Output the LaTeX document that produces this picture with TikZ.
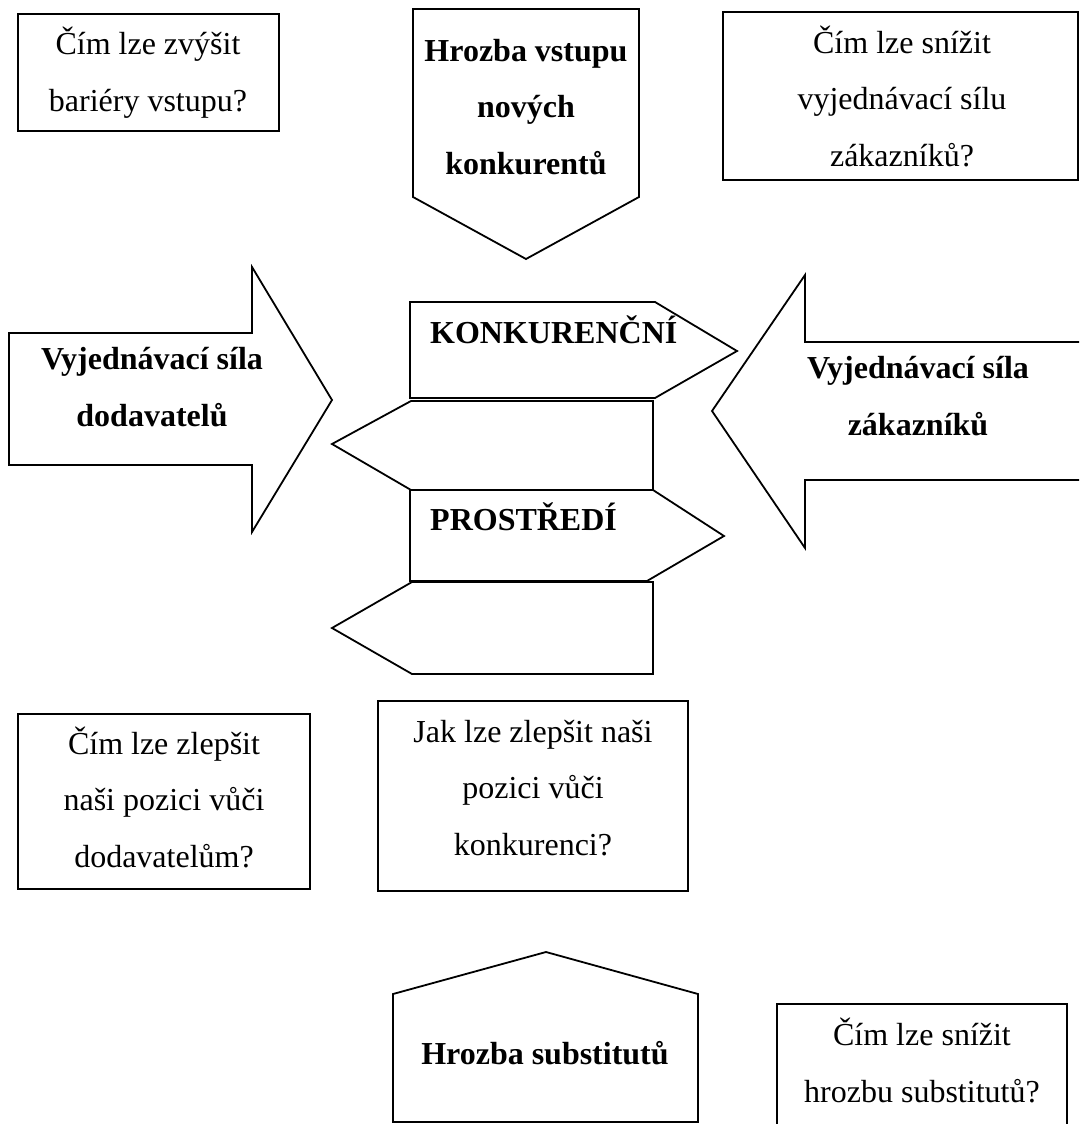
\documentclass[tikz,border=0pt]{standalone}
\usepackage{fontspec}
\setmainfont{Liberation Serif}
\begin{document}
\begin{tikzpicture}[x=1pt,y=-1pt,
  shapeline/.style={draw=black,line width=1.8pt,line join=miter,fill=white},
  txt/.style={font=\fontsize{32}{56.5}\selectfont,align=center,anchor=base,inner sep=0pt},
  btxt/.style={font=\fontsize{32}{56.5}\selectfont\bfseries,align=center,anchor=base,inner sep=0pt}]
\useasboundingbox (0,0) rectangle (1079,1124);
\fill[white] (0,0) rectangle (1079,1124);
\clip (0,0) rectangle (1079,1124);

% top-left box (base anchor = baseline of last line)
\draw[shapeline] (18,14) rectangle (279,131);
\node[txt] (barriers) at (148,111) {Čím lze zvýšit\\bariéry vstupu?};

% top arrow: threat of new entrants
\draw[shapeline] (413,9) -- (639,9) -- (639,197) -- (526,259) -- (413,197) -- cycle;
\node[btxt] (entrants) at (526,174) {Hrozba vstupu\\nových\\konkurentů};

% top-right box
\draw[shapeline] (723,12) rectangle (1078,180);
\node[txt] (custq) at (902,166) {Čím lze snížit\\vyjednávací sílu\\zákazníků?};

% left arrow: suppliers
\draw[shapeline] (9,333) -- (252,333) -- (252,267) -- (332,400) -- (252,532) -- (252,465) -- (9,465) -- cycle;
\node[btxt] (suppliers) at (152,426) {Vyjednávací síla\\dodavatelů};

% right arrow: customers (open at the right edge)
\draw[shapeline] (1095,342) -- (805,342) -- (805,275) -- (712,411) -- (805,548) -- (805,480) -- (1095,480) -- cycle;
\node[btxt] (customers) at (918,435) {Vyjednávací síla\\zákazníků};

% centre arrows
\draw[shapeline] (410,302) -- (655,302) -- (737,351) -- (655,398) -- (410,398) -- cycle;
\draw[shapeline] (653,401) -- (653,490) -- (411,490) -- (332,444) -- (411,401) -- cycle;
\draw[shapeline] (410,490) -- (653,490) -- (724,536) -- (647,581) -- (410,581) -- cycle;
\draw[shapeline] (653,582) -- (653,674) -- (412,674) -- (332,628) -- (412,582) -- cycle;
\node[btxt,anchor=base west] (konk) at (430,343) {KONKURENČNÍ};
\node[btxt,anchor=base west] (prostr) at (430,530) {PROSTŘEDÍ};

% bottom-left box
\draw[shapeline] (18,714) rectangle (310,889);
\node[txt] (suppq) at (164,867) {Čím lze zlepšit\\naši pozici vůči\\dodavatelům?};

% centre bottom box
\draw[shapeline] (378,701) rectangle (688,891);
\node[txt] (compq) at (533,855) {Jak lze zlepšit naši\\pozici vůči\\konkurenci?};

% bottom pentagon: substitutes
\draw[shapeline] (393,1122) -- (393,994) -- (546,952) -- (698,994) -- (698,1122) -- cycle;
\node[btxt] (subst) at (545,1064) {Hrozba substitutů};

% bottom-right box
\draw[shapeline] (777,1004) rectangle (1067,1140);
\node[txt] (substq) at (922,1102) {Čím lze snížit\\hrozbu substitutů?};
\end{tikzpicture}
\end{document}
